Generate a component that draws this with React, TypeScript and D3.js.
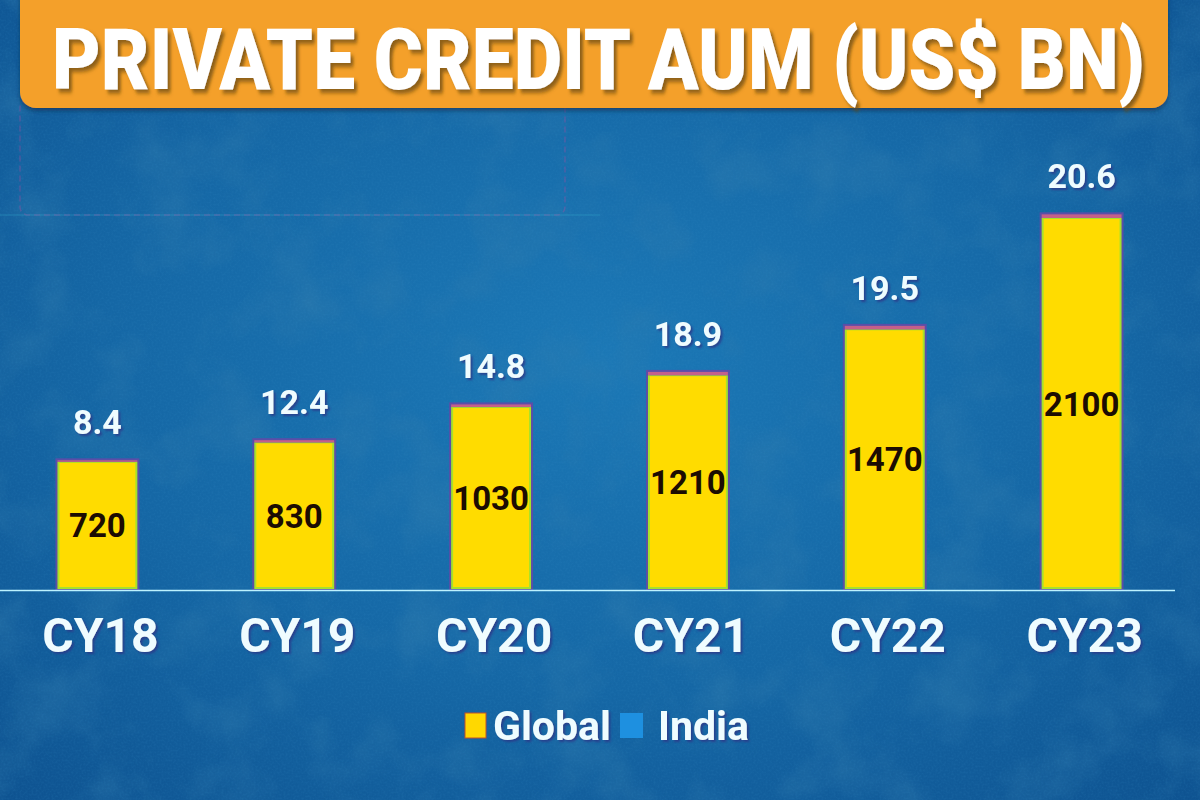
import React from "react";
import * as d3 from "d3";

const categories = ["CY18", "CY19", "CY20", "CY21", "CY22", "CY23"];
const globalValues = [720, 830, 1030, 1210, 1470, 2100];
const indiaValues = [8.4, 12.4, 14.8, 18.9, 19.5, 20.6];
const seriesNames = ["Global", "India"];
const titleText = "PRIVATE CREDIT AUM (US$ BN)";

const W = 1200;
const H = 800;

export default function App() {
  const x = d3
    .scaleBand<string>()
    .domain(categories)
    .range([-1, 1180])
    .paddingInner(0.594)
    .paddingOuter(0.297);
  const y = d3.scaleLinear().domain([0, 2400]).range([589, 165]);
  const baseY = y(0);
  const bw = x.bandwidth();
  const font = "Roboto, 'Noto Sans', Arial, sans-serif";
  const white = "#effcff";

  return (
    <svg
      width={W}
      height={H}
      viewBox={`0 0 ${W} ${H}`}
      style={{ position: "absolute", left: 0, top: 0, display: "block" }}
    >
      <defs>
        <radialGradient id="bg" cx="50%" cy="45%" r="75%">
          <stop offset="0%" stopColor="#1b78b6" />
          <stop offset="55%" stopColor="#1567a5" />
          <stop offset="100%" stopColor="#0e5290" />
        </radialGradient>
        <filter id="noise" x="0" y="0" width="100%" height="100%">
          <feTurbulence type="fractalNoise" baseFrequency="0.015" numOctaves="5" seed="7" />
          <feColorMatrix
            type="matrix"
            values="0 0 0 0 0.03  0 0 0 0 0.2  0 0 0 0 0.42  0 0 0 1.8 -0.8"
          />
        </filter>
        <filter id="noise2" x="0" y="0" width="100%" height="100%">
          <feTurbulence type="fractalNoise" baseFrequency="0.5" numOctaves="2" seed="3" />
          <feColorMatrix
            type="matrix"
            values="0 0 0 0 0.05  0 0 0 0 0.3  0 0 0 0 0.6  0 0 0 1.0 -0.4"
          />
        </filter>
        <filter id="tshadow" x="-10%" y="-20%" width="130%" height="150%">
          <feDropShadow dx="2" dy="2" stdDeviation="1.2" floodColor="#2a3a8a" floodOpacity="0.85" />
        </filter>
        <filter id="titleShadow" x="-5%" y="-20%" width="110%" height="150%">
          <feDropShadow dx="3" dy="3" stdDeviation="1.6" floodColor="#6a4a10" floodOpacity="0.75" />
        </filter>
        <filter id="bannerShadow" x="-5%" y="-20%" width="110%" height="150%">
          <feDropShadow dx="0" dy="3" stdDeviation="2" floodColor="#0a2a50" floodOpacity="0.6" />
        </filter>
      </defs>

      {/* background */}
      <rect x={0} y={0} width={W} height={H} fill="url(#bg)" />
      <rect x={0} y={0} width={W} height={H} filter="url(#noise)" opacity={0.6} />
      <rect x={0} y={0} width={W} height={H} filter="url(#noise2)" opacity={0.3} />

      {/* faint ghost box */}
      <rect
        x={20}
        y={100}
        width={545}
        height={115}
        rx={8}
        fill="none"
        stroke="#b04aa0"
        strokeOpacity={0.35}
        strokeWidth={1.5}
        strokeDasharray="6 4"
      />
      <line x1={0} x2={600} y1={215} y2={215} stroke="#3ab8d8" strokeOpacity={0.35} strokeWidth={1} />

      {/* title banner */}
      <rect
        x={20}
        y={-20}
        width={1148}
        height={128}
        rx={16}
        fill="#f4a02a"
        filter="url(#bannerShadow)"
      />
      <g transform="translate(52,89) scale(1,1.3)">
        <text
          x={0}
          y={0}
          fontFamily={font}
          fontWeight={900}
          fontSize={66}
          fill="#ffffff"
          textLength={1093}
          lengthAdjust="spacingAndGlyphs"
          filter="url(#titleShadow)"
        >
          {titleText}
        </text>
      </g>

      {/* bars */}
      {categories.map((c, i) => {
        const bx = x(c) as number;
        const gTop = y(globalValues[i]);
        const tTop = y(globalValues[i] + indiaValues[i]);
        return (
          <g key={c}>
            <rect
              x={bx - 2}
              y={tTop - 2}
              width={bw + 4}
              height={baseY - tTop + 3}
              fill="#5a4ea8"
            />
            <rect
              x={bx}
              y={gTop}
              width={bw}
              height={baseY - gTop}
              fill="#a6e22a"
            />
            <rect
              x={bx + 2}
              y={gTop + 1}
              width={bw - 4}
              height={baseY - gTop - 3}
              fill="#ffdc00"
            />
            <rect
              x={bx}
              y={tTop}
              width={bw}
              height={Math.max(gTop - tTop, 1)}
              fill="#c4608a"
            />
          </g>
        );
      })}

      {/* baseline */}
      <line x1={0} x2={1175} y1={baseY + 1.5} y2={baseY + 1.5} stroke="#bdf2ff" strokeWidth={1.6} />

      {/* Global labels (inside bars) */}
      {categories.map((c, i) => {
        const cx = (x(c) as number) + bw / 2;
        const mid = (y(globalValues[i]) + baseY) / 2;
        return (
          <text
            key={"g" + c}
            x={cx}
            y={mid + 12}
            textAnchor="middle"
            fontFamily={font}
            fontWeight={700}
            fontSize={33}
            fill="#1c0c02"
          >
            {globalValues[i]}
          </text>
        );
      })}

      {/* India labels (above bars) */}
      {categories.map((c, i) => {
        const cx = (x(c) as number) + bw / 2;
        const top = y(globalValues[i] + indiaValues[i]);
        return (
          <text
            key={"i" + c}
            x={cx}
            y={top - 26}
            textAnchor="middle"
            fontFamily={font}
            fontWeight={700}
            fontSize={34}
            fill={white}
            filter="url(#tshadow)"
          >
            {indiaValues[i].toFixed(1)}
          </text>
        );
      })}

      {/* category labels */}
      {categories.map((c) => {
        const cx = (x(c) as number) + bw / 2 + 3;
        return (
          <text
            key={"c" + c}
            x={cx}
            y={652}
            textAnchor="middle"
            fontFamily={font}
            fontWeight={700}
            fontSize={48}
            fill={white}
            filter="url(#tshadow)"
          >
            {c}
          </text>
        );
      })}

      {/* legend */}
      <g>
        <rect x={465} y={713} width={21} height={25} fill="#ffd800" stroke="#c0502a" strokeWidth={1} />
        <text
          x={493}
          y={740}
          fontFamily={font}
          fontWeight={700}
          fontSize={41}
          fill={white}
          filter="url(#tshadow)"
        >
          {seriesNames[0]}
        </text>
        <rect x={620} y={713} width={23} height={25} fill="#1e90e0" />
        <text
          x={658}
          y={740}
          fontFamily={font}
          fontWeight={700}
          fontSize={41}
          fill={white}
          filter="url(#tshadow)"
        >
          {seriesNames[1]}
        </text>
      </g>
    </svg>
  );
}
